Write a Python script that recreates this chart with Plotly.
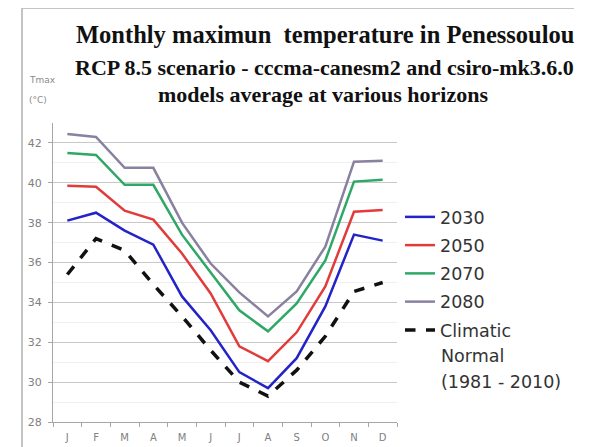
import plotly.graph_objects as go

months = ["J", "F", "M", "A", "M", "J", "J", "A", "S", "O", "N", "D"]
t2030 = [38.1, 38.5, 37.6, 36.9, 34.3, 32.6, 30.5, 29.7, 31.2, 33.8, 37.4, 37.1]
t2050 = [39.85, 39.8, 38.6, 38.15, 36.45, 34.45, 31.8, 31.05, 32.5, 34.8, 38.55, 38.64]
t2070 = [41.5, 41.4, 39.9, 39.9, 37.4, 35.5, 33.6, 32.55, 33.95, 36.1, 40.06, 40.15]
t2080 = [42.45, 42.3, 40.75, 40.75, 38.0, 35.95, 34.5, 33.3, 34.55, 36.8, 41.06, 41.1]
normal = [35.4, 37.2, 36.6, 34.9, 33.3, 31.6, 30.0, 29.3, 30.6, 32.3, 34.55, 35.0]
normal_label_extra = ["Normal", "(1981 - 2010)"]

series = [
    ("2030", t2030, "#2323c8", "solid", 2.5),
    ("2050", t2050, "#e23b3b", "solid", 2.5),
    ("2070", t2070, "#2fa866", "solid", 2.5),
    ("2080", t2080, "#8a80a0", "solid", 2.5),
    ("Climatic", normal, "#111111", "dash", 3.5),
]

xs = list(range(len(months)))
fig = go.Figure()
for i, (name, vals, col, dash, w) in enumerate(series):
    fig.add_trace(go.Scatter(
        x=xs, y=vals, mode="lines", name=name, legendgroup=f"g{i}",
        line=dict(color=col, width=w, dash=dash),
    ))

# geometry in window pixels (page body adds an 8px offset)
OFF = 8
W, H = 590, 447
L, R, T, B = 53 - OFF, 397 - OFF, 123 - OFF, 422 - OFF
pw, ph = R - L, B - T

def px(x):
    return (x - OFF - L) / pw

def py(y):
    return (B - (y - OFF)) / ph

LEG_FONT = dict(family="DejaVu Sans", size=17.5, color="#333333")

fig.update_layout(
    width=W, height=H,
    margin=dict(l=L, r=W - R, t=T, b=H - B, autoexpand=False),
    paper_bgcolor="white", plot_bgcolor="white",
    showlegend=True,
    legend=dict(
        x=px(400), y=py(199), xanchor="left", yanchor="top",
        font=LEG_FONT, tracegroupgap=2.5, itemwidth=30,
        bgcolor="rgba(0,0,0,0)",
    ),
    xaxis=dict(
        range=[-0.5, 11.5], tickmode="array", tickvals=xs, ticktext=months,
        ticks="", showgrid=False, zeroline=False, ticklabelstandoff=6,
        automargin=False,
        showline=True, linecolor="#a6a6a6", linewidth=1,
        tickfont=dict(family="DejaVu Sans", size=10, color="#808080"),
        minor=dict(tickvals=[i - 0.5 for i in range(13)], ticks="outside",
                   ticklen=4, tickcolor="#a6a6a6", showgrid=False),
        fixedrange=True,
    ),
    yaxis=dict(
        range=[28, 43], tickmode="array", tickvals=[28, 30, 32, 34, 36, 38, 40, 42],
        ticks="outside", ticklen=4, tickcolor="#a6a6a6", ticklabelstandoff=4,
        automargin=False,
        showgrid=True, gridcolor="#c8c8c8", gridwidth=1, zeroline=False,
        showline=True, linecolor="#a6a6a6", linewidth=1,
        tickfont=dict(family="DejaVu Sans", size=11, color="#808080"),
        minor=dict(dtick=1, showgrid=True, gridcolor="#f0f0f0", gridwidth=1),
        fixedrange=True,
    ),
)

serif = "Liberation Serif"
ann = [
    dict(text="<b>Monthly maximun  temperature in Penessoulou</b>", x=px(325), y=py(35),
         font=dict(family=serif, size=24.5, color="#111111")),
    dict(text="<b>RCP 8.5 scenario - cccma-canesm2 and csiro-mk3.6.0</b>", x=px(324), y=py(68),
         font=dict(family=serif, size=22, color="#111111")),
    dict(text="<b>models average at various horizons</b>", x=px(323), y=py(94),
         font=dict(family=serif, size=22, color="#111111")),
]
for a in ann:
    fig.add_annotation(xref="paper", yref="paper", xanchor="center", yanchor="middle",
                       showarrow=False, **a)
for txt, yy in [("Tmax", 80), ("(°C)", 100)]:
    fig.add_annotation(xref="paper", yref="paper", x=px(27), y=py(yy), xanchor="left",
                       yanchor="middle", showarrow=False, text=txt,
                       font=dict(family="DejaVu Sans", size=9, color="#8a8a8a"))
# remaining lines of the Climatic Normal legend label
for txt, yy in zip(normal_label_extra, [356, 382]):
    fig.add_annotation(xref="paper", yref="paper", x=px(439), y=py(yy), xanchor="left",
                       yanchor="middle", showarrow=False, text=txt, font=LEG_FONT)

# outer frame lines
fig.add_shape(type="line", xref="paper", yref="paper", x0=px(22), x1=px(22),
              y0=py(8), y1=py(460), line=dict(color="#c4c4c4", width=2))
fig.add_shape(type="line", xref="paper", yref="paper", x0=px(22), x1=px(574),
              y0=py(8), y1=py(8), line=dict(color="#c4c4c4", width=2))

fig.write_html("out.html")
